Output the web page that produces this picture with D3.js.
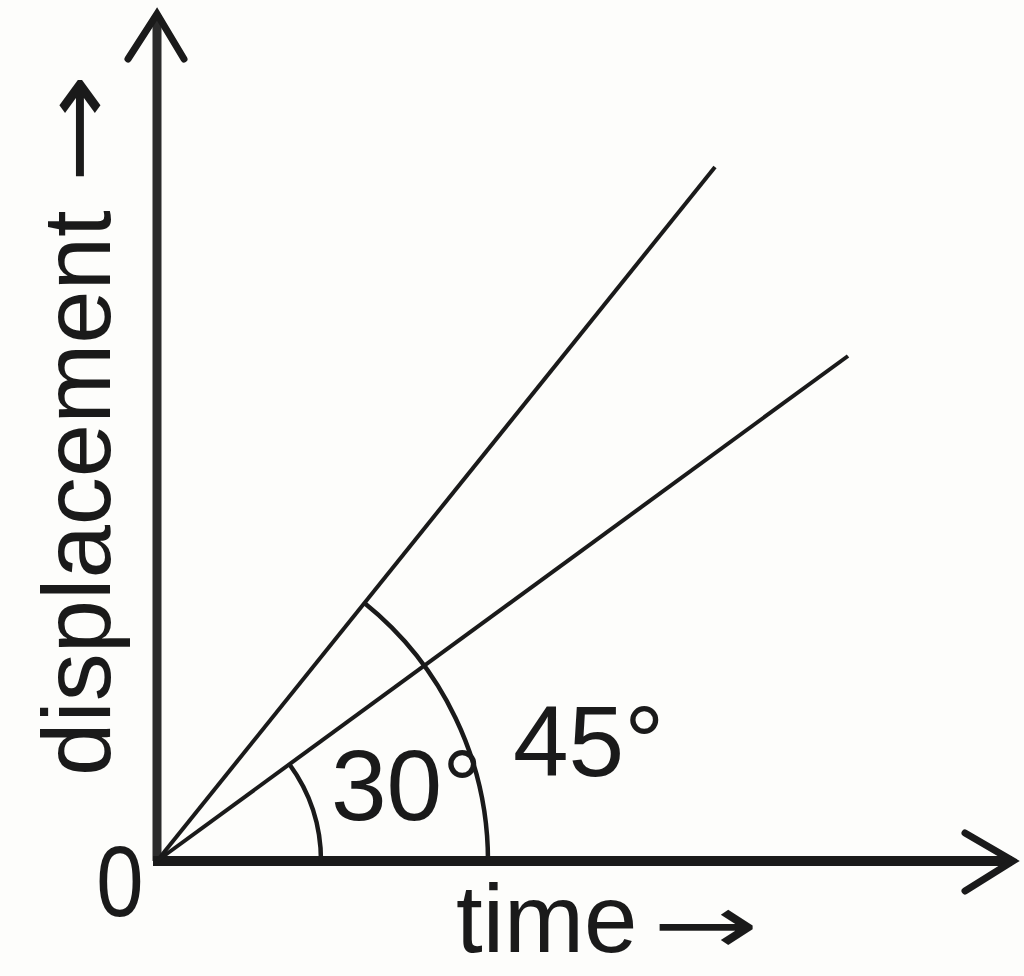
<!DOCTYPE html>
<html>
<head>
<meta charset="utf-8">
<script src="https://cdn.jsdelivr.net/npm/d3@7"></script>
<style>
  html, body { margin: 0; padding: 0; background: #fdfdfb; }
  svg { display: block; }
  text { font-family: "Liberation Sans", Arial, sans-serif; fill: #1a1a1a; }
</style>
</head>
<body>
<svg id="chart" width="1024" height="976"></svg>
<script>
// ---- data (plot units: time, displacement) ----
const axisLabels = ["time", "displacement"];
const arrowGlyph = "\u2192";
const originLabel = "0";
const lineEnds = [            // end points of the two straight lines from the origin
  { name: "steep",   t: 558, s: 694 },
  { name: "shallow", t: 691, s: 505 }
];
const angleArcs = [           // angle markers: radius (plot units) and which line they reach
  { label: "45\u00b0", r: 331, line: 0 },
  { label: "30\u00b0", r: 164, line: 1 }
];
const axisMax = { t: 858, s: 849 };

// ---- scales ----
const x = d3.scaleLinear().domain([0, axisMax.t]).range([157, 1015]);
const y = d3.scaleLinear().domain([0, axisMax.s]).range([861, 12]);

const svg = d3.select("#chart");
const ink = "#1a1a1a";
const ox = x(0), oy = y(0);

// ---- axes ----
svg.append("line")
  .attr("x1", ox).attr("y1", oy).attr("x2", ox).attr("y2", y(axisMax.s) + 3)
  .attr("stroke", "#2b2b2b").attr("stroke-width", 9);
svg.append("line")
  .attr("x1", ox - 4).attr("y1", oy).attr("x2", x(axisMax.t) - 3).attr("y2", oy)
  .attr("stroke", ink).attr("stroke-width", 10);

// arrow heads (chevrons)
svg.append("path")
  .attr("d", d3.line()([[ox - 29, y(axisMax.s) + 47], [ox, y(axisMax.s) + 2], [ox + 27, y(axisMax.s) + 47]]))
  .attr("fill", "none").attr("stroke", ink).attr("stroke-width", 7)
  .attr("stroke-linejoin", "miter").attr("stroke-linecap", "round");
svg.append("path")
  .attr("d", d3.line()([[x(axisMax.t) - 50, oy - 28], [x(axisMax.t) - 2, oy], [x(axisMax.t) - 50, oy + 30]]))
  .attr("fill", "none").attr("stroke", ink).attr("stroke-width", 7)
  .attr("stroke-linejoin", "miter").attr("stroke-linecap", "round");

// ---- straight lines ----
svg.selectAll("line.graph")
  .data(lineEnds)
  .enter().append("line")
  .attr("class", "graph")
  .attr("x1", ox).attr("y1", oy)
  .attr("x2", d => x(d.t)).attr("y2", d => y(d.s))
  .attr("stroke", ink).attr("stroke-width", 4);

// ---- angle arcs ----
const pxPerUnit = x(1) - x(0);
svg.selectAll("path.arcmark")
  .data(angleArcs)
  .enter().append("path")
  .attr("class", "arcmark")
  .attr("d", d => {
    const L = lineEnds[d.line];
    const theta = Math.atan2(y(0) - y(L.s), x(L.t) - x(0));
    const p = d3.path();
    p.arc(ox, oy, d.r * pxPerUnit, 0, -theta, true);
    return p.toString();
  })
  .attr("fill", "none").attr("stroke", ink).attr("stroke-width", 4.5);

// ---- angle labels ----
svg.append("text").attr("x", 513).attr("y", 776)
  .attr("font-size", 100).text(angleArcs[0].label);
svg.append("text").attr("x", 331).attr("y", 820)
  .attr("font-size", 100).text(angleArcs[1].label);

// ---- origin label ----
svg.append("text").attr("transform", "translate(120,916) scale(0.85,1)")
  .attr("text-anchor", "middle").attr("font-size", 100).text(originLabel);

// ---- axis titles ----
svg.append("text").attr("x", 456).attr("y", 952).attr("font-size", 96).text(axisLabels[0]);
svg.append("text")
  .attr("transform", "translate(652,953) scale(1.55,1)")
  .attr("font-size", 82)
  .style("font-family", "'DejaVu Sans', sans-serif").text(arrowGlyph);

svg.append("text")
  .attr("transform", "translate(110,776) rotate(-90)")
  .attr("font-size", 96).text(axisLabels[1]);
svg.append("text")
  .attr("transform", "translate(110,184) rotate(-90) scale(1.37,1)")
  .attr("font-size", 96)
  .style("font-family", "'DejaVu Sans', sans-serif").text(arrowGlyph);
</script>
</body>
</html>
